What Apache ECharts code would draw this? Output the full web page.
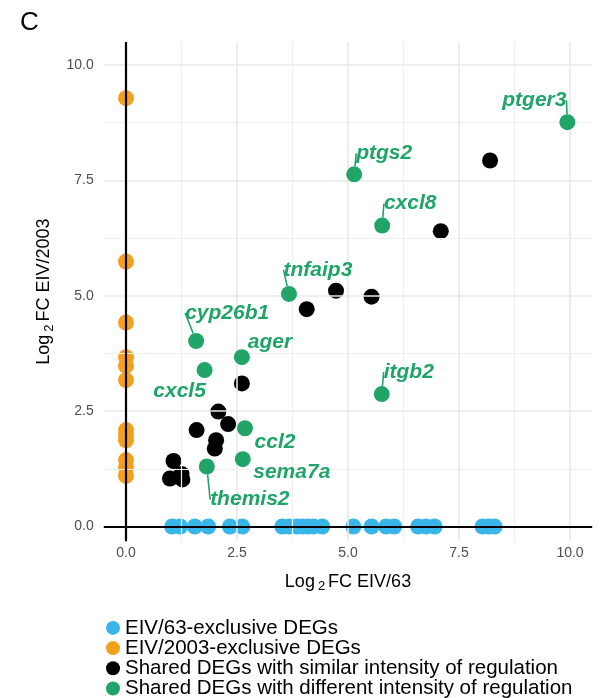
<!DOCTYPE html>
<html>
<head>
<meta charset="utf-8">
<script src="https://cdn.jsdelivr.net/npm/echarts@6/dist/echarts.min.js"></script>
<style>
html,body{margin:0;padding:0;background:#fff;}
#chart{width:605px;height:698px;}
</style>
</head>
<body>
<div id="chart"></div>
<script>
// ---- data ----
const legendNames = [
  'EIV/63-exclusive DEGs',
  'EIV/2003-exclusive DEGs',
  'Shared DEGs with similar intensity of regulation',
  'Shared DEGs with different intensity of regulation'
];
const tickValues = [0, 2.5, 5, 7.5, 10];
const minorGrid = [1.25, 3.75, 6.25, 8.75];
// EIV/63-exclusive: log2FC EIV/63 (EIV/2003 = 0)
const eiv63Only = [1.04, 1.22, 1.55, 1.85, 2.34, 2.62, 3.52, 3.68, 3.85, 3.98, 4.10, 4.22, 4.42,
  5.12, 5.53, 5.86, 6.04, 6.58, 6.76, 6.95, 8.03, 8.17, 8.30];
// EIV/2003-exclusive: log2FC EIV/2003 (EIV/63 = 0)
const eiv2003Only = [9.28, 5.74, 4.42, 3.67, 3.48, 3.17, 2.09, 1.98, 1.87, 1.44, 1.28, 1.10];
// shared, similar: [EIV/63, EIV/2003]
const sharedSimilarX = [1.07, 0.99, 1.25, 1.27, 1.59, 2.00, 2.03, 2.08, 2.30, 2.61, 4.07, 4.73, 5.53, 7.09, 8.20];
const sharedSimilarY = [1.42, 1.04, 1.14, 1.02, 2.09, 1.69, 1.87, 2.49, 2.22, 3.10, 4.71, 5.11, 4.98, 6.40, 7.93];
// shared, different
const sharedDiffGenes = ['ptger3', 'ptgs2', 'cxcl8', 'tnfaip3', 'cyp26b1', 'ager', 'cxcl5', 'itgb2', 'ccl2', 'sema7a', 'themis2'];
const sharedDiffX = [9.94, 5.14, 5.77, 3.67, 1.58, 2.61, 1.77, 5.76, 2.68, 2.63, 1.82];
const sharedDiffY = [8.76, 7.63, 6.52, 5.04, 4.02, 3.67, 3.39, 2.87, 2.13, 1.46, 1.30];

// ---- layout / style (not data) ----
const labelShift = {
  ptger3: [-33, -22, true], ptgs2: [30, -21, true], cxcl8: [28, -22, true], tnfaip3: [29, -24, true],
  cyp26b1: [31, -28, true], ager: [28, -15, false], cxcl5: [-25, 21, false], itgb2: [27, -22, true],
  ccl2: [30, 14, false], sema7a: [49, 13, false], themis2: [43, 33, true]
};
const colors = ['#39b6e9', '#f3a11d', '#000000', '#20a468'];
const FONT = '"Liberation Sans", Arial, Helvetica, sans-serif';

const chart = echarts.init(document.getElementById('chart'), null, {renderer: 'canvas'});

const gridLineData = [];
tickValues.forEach(v => gridLineData.push({xAxis: v, lineStyle: {color: '#e8e8e8', width: 1.6}}));
tickValues.forEach(v => gridLineData.push({yAxis: v, lineStyle: {color: '#e8e8e8', width: 1.6}}));
minorGrid.forEach(v => gridLineData.push({xAxis: v, lineStyle: {color: '#efefef', width: 1.2}}));
minorGrid.forEach(v => gridLineData.push({yAxis: v, lineStyle: {color: '#efefef', width: 1.2}}));

const axisName = (a) => '{a|Log}{s|2}{a|FC ' + a + '}';

const option = {
  animation: false,
  textStyle: {fontFamily: FONT},
  graphic: [{
    type: 'text', left: 20, top: 10,
    style: {text: 'C', font: '26px ' + FONT, fill: '#000'}
  }],
  grid: {left: 103.8, right: 12.8, top: 41.9, bottom: 156.7, containLabel: false},
  legend: {
    orient: 'vertical', left: 106, bottom: -1, padding: 0,
    itemWidth: 14, itemHeight: 14, itemGap: -0.8,
    icon: 'circle',
    data: legendNames,
    textStyle: {fontSize: 20.5, lineHeight: 20, color: '#000', fontFamily: FONT},
    selectedMode: false
  },
  xAxis: {
    type: 'value', min: -0.5, max: 10.5,
    axisLine: {show: false}, axisTick: {show: false}, splitLine: {show: false},
    axisLabel: {customValues: tickValues, formatter: v => v.toFixed(1), color: '#4d4d4d', fontSize: 14, margin: 5, fontFamily: FONT},
    name: axisName('EIV/63'), nameLocation: 'middle', nameGap: 29,
    nameTextStyle: {
      rich: {
        a: {fontSize: 18, color: '#000', fontFamily: FONT},
        s: {fontSize: 13, color: '#000', fontFamily: FONT, padding: [10, 3, 0, 3]}
      }
    }
  },
  yAxis: {
    type: 'value', min: -0.32, max: 10.5,
    axisLine: {show: false}, axisTick: {show: false}, splitLine: {show: false},
    axisLabel: {customValues: tickValues, formatter: v => v.toFixed(1), color: '#4d4d4d', fontSize: 14, margin: 10, fontFamily: FONT},
    name: axisName('EIV/2003'), nameLocation: 'middle', nameGap: 38, nameRotate: 90,
    nameTextStyle: {
      rich: {
        a: {fontSize: 18, color: '#000', fontFamily: FONT},
        s: {fontSize: 13, color: '#000', fontFamily: FONT, padding: [10, 3, 0, 3]}
      }
    }
  },
  series: [
    {
      name: '_grid', type: 'scatter', data: [], z: 1, silent: true,
      markLine: {
        silent: true, symbol: 'none', label: {show: false}, animation: false,
        data: gridLineData.concat([
          {xAxis: 0, lineStyle: {color: '#000', width: 2.2, type: 'solid'}},
          {yAxis: 0, lineStyle: {color: '#000', width: 2.2, type: 'solid'}}
        ]),
        lineStyle: {type: 'solid'}
      }
    },
    {
      name: legendNames[0], type: 'scatter', z: 3, symbolSize: 16,
      itemStyle: {color: colors[0], opacity: 1},
      data: eiv63Only.map(x => [x, 0])
    },
    {
      name: legendNames[1], type: 'scatter', z: 3, symbolSize: 16,
      itemStyle: {color: colors[1], opacity: 1},
      data: eiv2003Only.map(y => [0, y])
    },
    {
      name: legendNames[2], type: 'scatter', z: 4, symbolSize: 16,
      itemStyle: {color: colors[2], opacity: 1},
      data: sharedSimilarX.map((x, i) => [x, sharedSimilarY[i]])
    },
    {
      name: legendNames[3], type: 'scatter', z: 5, symbolSize: 16,
      itemStyle: {color: colors[3], opacity: 1},
      data: sharedDiffX.map((x, i) => ({
        name: sharedDiffGenes[i],
        value: [x, sharedDiffY[i]],
        labelLine: {show: labelShift[sharedDiffGenes[i]][2]}
      })),
      label: {
        show: true, position: 'inside', formatter: p => p.name,
        color: colors[3], fontSize: 21, fontWeight: 'bold', fontStyle: 'italic', fontFamily: FONT
      },
      labelLine: {show: true, lineStyle: {color: colors[3], width: 1.6}},
      labelLayout: function (params) {
        const s = labelShift[sharedDiffGenes[params.dataIndex]];
        return {dx: s[0], dy: s[1], hideOverlap: false};
      }
    }
  ]
};
chart.setOption(option);
</script>
</body>
</html>
